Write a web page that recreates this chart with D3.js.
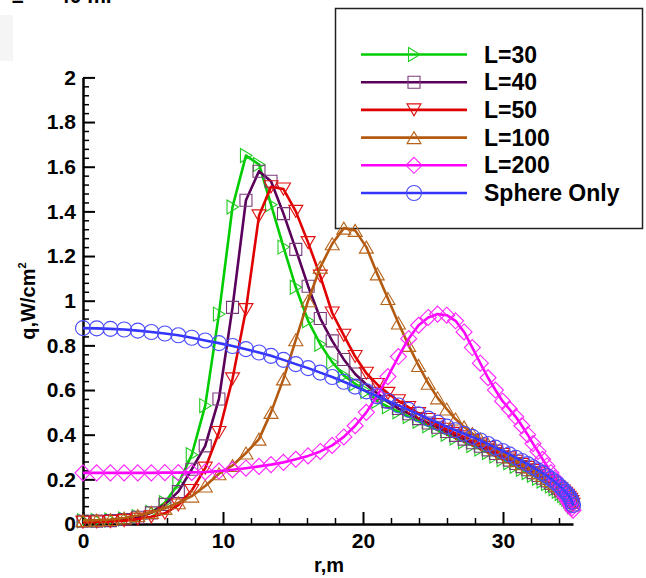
<html>
<head>
	<meta http-equiv="Content-Type" content="text/html; charset=utf-8" />
	<script src="https://cdn.jsdelivr.net/npm/d3@7/dist/d3.min.js" charset="utf-8"></script>
	<style type="text/css">
	body {
		background-color: #FFFFFF;
		margin: 0;
	}
	svg text {
		font-family: "Liberation Sans", Arial, sans-serif;
		font-weight: bold;
	}
	</style>
</head>
<body>
	<svg width="646" height="578" version="1.1" xmlns="http://www.w3.org/2000/svg"></svg>

	<script type="text/javascript">
		/* r grid, m (points get denser towards the sphere edge) */
		var v_R = [0, 0.98, 1.96, 2.94, 3.91, 4.88, 5.85, 6.81, 7.77, 8.73,
		           9.71, 10.68, 11.64, 12.57, 13.43, 14.32, 15.2, 16.08, 16.95, 17.8,
		           18.63, 19.44, 20.24, 21.02, 21.78, 22.53, 23.26, 23.97, 24.66, 25.33,
		           25.98, 26.61, 27.22, 27.81, 28.38, 28.93, 29.46, 29.97, 30.45, 30.91,
		           31.35, 31.76, 32.14, 32.5, 32.83, 33.14, 33.42, 33.68, 33.91, 34.12,
		           34.3, 34.46, 34.6, 34.72, 34.83, 34.92, 35.0];

		var v_L30 = [0.015, 0.016, 0.018, 0.023, 0.033, 0.052, 0.095, 0.18, 0.31, 0.53,
		             0.94, 1.42, 1.65, 1.61, 1.43, 1.24, 1.06, 0.91, 0.805, 0.725,
		             0.665, 0.628, 0.593, 0.55, 0.525, 0.503, 0.481, 0.46, 0.44, 0.421,
		             0.402, 0.385, 0.368, 0.352, 0.336, 0.32, 0.304, 0.289, 0.274, 0.259,
		             0.245, 0.231, 0.218, 0.205, 0.193, 0.181, 0.17, 0.158, 0.147, 0.137,
		             0.128, 0.119, 0.111, 0.103, 0.095, 0.087, 0.077];

		var v_L40 = [0.012, 0.013, 0.015, 0.02, 0.03, 0.05, 0.088, 0.145, 0.245, 0.35,
		             0.56, 0.97, 1.45, 1.58, 1.535, 1.39, 1.23, 1.065, 0.92, 0.82,
		             0.737, 0.672, 0.625, 0.585, 0.548, 0.517, 0.494, 0.472, 0.452, 0.433,
		             0.414, 0.397, 0.38, 0.364, 0.348, 0.332, 0.316, 0.301, 0.286, 0.271,
		             0.257, 0.243, 0.23, 0.217, 0.205, 0.193, 0.182, 0.17, 0.159, 0.149,
		             0.14, 0.131, 0.122, 0.114, 0.106, 0.097, 0.085];

		var v_L50 = [0.008, 0.009, 0.011, 0.015, 0.022, 0.032, 0.048, 0.085, 0.15, 0.25,
		             0.41, 0.65, 0.96, 1.38, 1.51, 1.50, 1.40, 1.26, 1.11, 0.945,
		             0.845, 0.75, 0.675, 0.625, 0.585, 0.552, 0.522, 0.495, 0.468, 0.445,
		             0.424, 0.406, 0.39, 0.374, 0.358, 0.342, 0.326, 0.311, 0.296, 0.281,
		             0.267, 0.253, 0.24, 0.227, 0.215, 0.203, 0.191, 0.18, 0.168, 0.158,
		             0.148, 0.138, 0.129, 0.12, 0.111, 0.101, 0.088];

		var v_L100 = [0.015, 0.017, 0.02, 0.027, 0.038, 0.052, 0.07, 0.095, 0.125, 0.17,
		              0.225, 0.262, 0.318, 0.38, 0.5, 0.65, 0.825, 1.0, 1.15, 1.255,
		              1.325, 1.315, 1.24, 1.12, 1.01, 0.9, 0.8, 0.71, 0.63, 0.565,
		              0.515, 0.47, 0.435, 0.405, 0.38, 0.357, 0.337, 0.318, 0.3, 0.284,
		              0.27, 0.256, 0.243, 0.23, 0.218, 0.206, 0.195, 0.183, 0.172, 0.162,
		              0.153, 0.144, 0.136, 0.128, 0.12, 0.111, 0.1];

		var v_L200 = [0.229, 0.229, 0.229, 0.229, 0.229, 0.229, 0.23, 0.23, 0.231, 0.233,
		              0.237, 0.243, 0.25, 0.258, 0.266, 0.276, 0.29, 0.305, 0.325, 0.352,
		              0.39, 0.44, 0.5, 0.575, 0.66, 0.75, 0.83, 0.89, 0.925, 0.94,
		              0.935, 0.91, 0.86, 0.79, 0.72, 0.655, 0.6, 0.55, 0.515, 0.48,
		              0.44, 0.4, 0.36, 0.325, 0.29, 0.26, 0.23, 0.205, 0.18, 0.155,
		              0.135, 0.12, 0.105, 0.093, 0.082, 0.072, 0.062];

		var v_Sphere = [0.877, 0.876, 0.874, 0.871, 0.866, 0.860, 0.853, 0.845, 0.834, 0.822,
		                0.810, 0.797, 0.783, 0.768, 0.753, 0.735, 0.716, 0.698, 0.678, 0.658,
		                0.637, 0.615, 0.594, 0.572, 0.551, 0.531, 0.511, 0.491, 0.472, 0.454,
		                0.436, 0.420, 0.404, 0.390, 0.374, 0.358, 0.342, 0.327, 0.312, 0.297,
		                0.282, 0.268, 0.254, 0.240, 0.228, 0.215, 0.202, 0.190, 0.178, 0.166,
		                0.155, 0.144, 0.134, 0.124, 0.113, 0.100, 0.085];

		var v_Names   = ["L=30", "L=40", "L=50", "L=100", "L=200", "Sphere Only"];
		var v_Series  = [v_L30, v_L40, v_L50, v_L100, v_L200, v_Sphere];

		var v_XTicks      = [0, 10, 20, 30];
		var v_XMinorTicks = [2, 4, 6, 8, 12, 14, 16, 18, 22, 24, 26, 28, 32, 34];
		var v_YTicks      = [0, 0.2, 0.4, 0.6, 0.8, 1, 1.2, 1.4, 1.6, 1.8, 2];
		var v_YTickLabels = ["0", "0.2", "0.4", "0.6", "0.8", "1", "1.2", "1.4", "1.6", "1.8", "2"];

		/* styles */
		var v_LineColors   = ["#00cc00", "#5a005a", "#e00000", "#b35a10", "#ff00ff", "#3434ff"];
		var v_MarkColors   = ["#22cc22", "#7a3a7a", "#e01010", "#b8631a", "#ff22ff", "#4a4aff"];
		var v_MarkTypes    = ["triR", "square", "triD", "triU", "diamond", "circle"];

		var v_SVG = d3.select("svg");

		var v_X = d3.scaleLinear().domain([0, 35]).range([83, 573]);
		var v_Y = d3.scaleLinear().domain([0, 2]).range([524, 77.4]);

		/* cropped caption remains at the top */
		v_SVG.append("rect").attr("x", 0).attr("y", 15).attr("width", 13).attr("height", 46).attr("fill", "#f5f5f5");
		v_SVG.append("text").attr("x", 12).attr("y", 3).attr("font-size", "21px").text("\u2264");
		v_SVG.append("text").attr("x", 58).attr("y", 3).attr("font-size", "21px").text("40 m.");

		/* legend box */
		v_SVG.append("rect")
		.attr("x", 335.5).attr("y", 8.5).attr("width", 307).attr("height", 220)
		.attr("fill", "none").attr("stroke", "#222").attr("stroke-width", 1.5);

		/* symbol path centred at 0,0 */
		function symbolPath(i_Type)
		{
			if ( i_Type == "triR" )    { return "M-5.5,-7 L6,0 L-5.5,7 Z"; }
			if ( i_Type == "square" )  { return "M-6,-6 L6,-6 L6,6 L-6,6 Z"; }
			if ( i_Type == "triD" )    { return "M-7,-6 L7,-6 L0,6 Z"; }
			if ( i_Type == "triU" )    { return "M-7,6 L7,6 L0,-6 Z"; }
			if ( i_Type == "diamond" ) { return "M0,-8 L8,0 L0,8 L-8,0 Z"; }
			return "M-7.5,0 A7.5,7.5,0,1,1,7.5,0 A7.5,7.5,0,1,1,-7.5,0 Z";
		}

		/* minor ticks */
		v_SVG.append("g")
		.attr("transform", "translate(0,524)")
		.call(d3.axisBottom(v_X).tickValues(v_XMinorTicks).tickSizeInner(-6).tickSizeOuter(0).tickFormat(""))
		.call(function (g) { g.select(".domain").remove(); g.selectAll("line").attr("stroke-width", 1.5); });

		var v_YMinor = [];
		for (var i = 0; i < v_YTicks.length - 1; i++)
		{
			for (var k = 1; k < 5; k++) { v_YMinor.push(v_YTicks[i] + k * 0.04); }
		}
		v_SVG.append("g")
		.attr("transform", "translate(83,0)")
		.call(d3.axisLeft(v_Y).tickValues(v_YMinor).tickSizeInner(-6).tickSizeOuter(0).tickFormat(""))
		.call(function (g) { g.select(".domain").remove(); g.selectAll("line").attr("stroke-width", 1.5); });

		/* major axes */
		v_SVG.append("g")
		.attr("transform", "translate(0,524)")
		.call(d3.axisBottom(v_X).tickValues(v_XTicks).tickSizeInner(-12).tickSizeOuter(0).tickPadding(9)
		      .tickFormat(d3.format("d")))
		.call(function (g)
		{
			g.select(".domain").attr("stroke-width", 2.5);
			g.selectAll("line").attr("stroke-width", 2);
			g.selectAll("text").attr("font-size", "21px").attr("fill", "#000");
		});

		v_SVG.append("g")
		.attr("transform", "translate(83,0)")
		.call(d3.axisLeft(v_Y).tickValues(v_YTicks).tickSizeInner(-12).tickSizeOuter(0).tickPadding(7)
		      .tickFormat(function (d, i) { return v_YTickLabels[i]; }))
		.call(function (g)
		{
			g.select(".domain").attr("stroke-width", 2.5);
			g.selectAll("line").attr("stroke-width", 2);
			g.selectAll("text").attr("font-size", "21px").attr("fill", "#000");
		});

		/* axis titles */
		v_SVG.append("text")
		.attr("x", 329).attr("y", 572).attr("text-anchor", "middle").attr("font-size", "20px")
		.text("r,m");

		var v_YTitle = v_SVG.append("text")
		.attr("transform", "translate(35,301) rotate(-90)")
		.attr("text-anchor", "middle").attr("font-size", "20px");
		v_YTitle.append("tspan").text("q,W/cm");
		v_YTitle.append("tspan").attr("font-size", "11px").attr("dy", "-9").text("2");

		/* curves */
		var v_Line = d3.line()
		.x(function (d) { return v_X(d[0]); })
		.y(function (d) { return v_Y(d[1]); });

		v_Series.forEach(function (v_Vals, i)
		{
			var v_Pts = v_R.map(function (r, j) { return [r, v_Vals[j]]; });
			var g = v_SVG.append("g");

			g.append("path")
			.attr("d", v_Line(v_Pts))
			.attr("fill", "none")
			.attr("stroke", v_LineColors[i])
			.attr("stroke-width", 2.6)
			.attr("stroke-linejoin", "round");

			g.selectAll("path.mark")
			.data(v_Pts)
			.enter()
			.append("path")
			.attr("class", "mark")
			.attr("transform", function (d) { return "translate(" + v_X(d[0]) + "," + v_Y(d[1]) + ")"; })
			.attr("d", symbolPath(v_MarkTypes[i]))
			.attr("fill", "none")
			.attr("stroke", v_MarkColors[i])
			.attr("stroke-width", 1.1);
		});

		/* legend entries */
		v_Names.forEach(function (v_Name, i)
		{
			var v_YPos = 54.5 + i * 27.7;

			v_SVG.append("line")
			.attr("x1", 361).attr("x2", 467).attr("y1", v_YPos).attr("y2", v_YPos)
			.attr("stroke", v_LineColors[i]).attr("stroke-width", 2.6);

			v_SVG.append("path")
			.attr("transform", "translate(414," + v_YPos + ")")
			.attr("d", symbolPath(v_MarkTypes[i]))
			.attr("fill", "none")
			.attr("stroke", v_MarkColors[i])
			.attr("stroke-width", 1.1);

			v_SVG.append("text")
			.attr("x", 484).attr("y", v_YPos + 8)
			.attr("font-size", "23px")
			.text(v_Name);
		});
	</script>
</body>
</html>
